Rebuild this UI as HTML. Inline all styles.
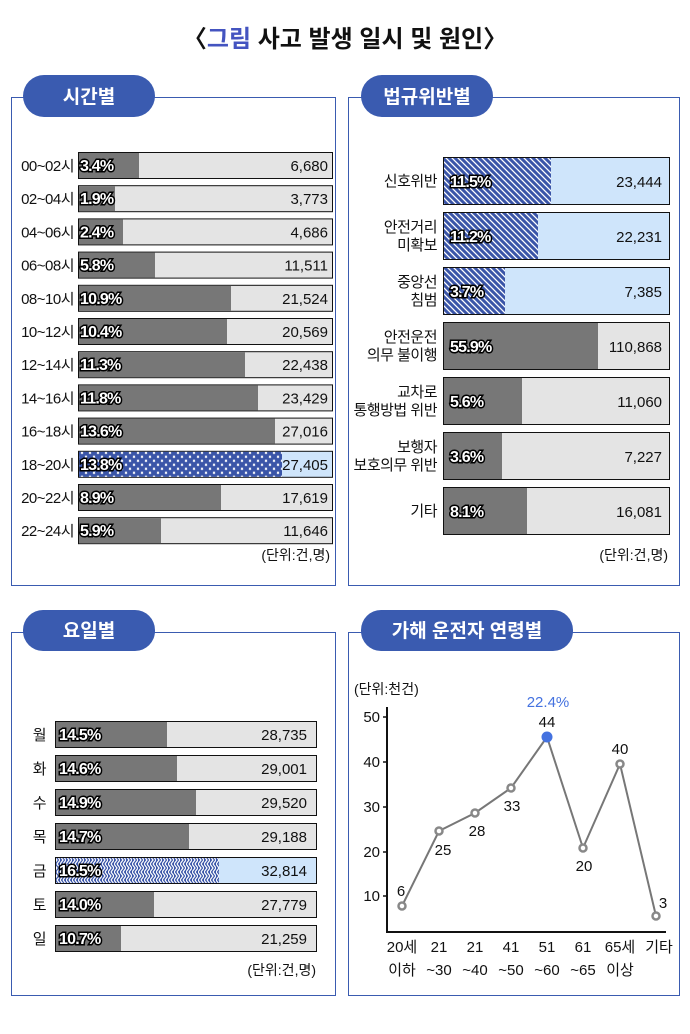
<!DOCTYPE html>
<html><head><meta charset="utf-8"><style>
html,body{margin:0;padding:0;background:#fff;}
svg{display:block;font-family:"Liberation Sans","Noto Sans CJK KR",sans-serif;}
.p{font-weight:bold;font-size:16px;fill:#fff;stroke:#000;stroke-width:3px;paint-order:stroke;letter-spacing:-0.8px;}
.v{font-size:15px;fill:#111;text-anchor:end;}
.l{font-size:15px;fill:#111;text-anchor:end;letter-spacing:-0.5px;}
.pill{font-size:19px;font-weight:bold;fill:#fff;text-anchor:middle;}
.u{font-size:14px;fill:#111;text-anchor:end;}
</style></head><body>
<svg width="690" height="1034" viewBox="0 0 690 1034" xmlns="http://www.w3.org/2000/svg">
<defs>
<pattern id="hatch" width="6" height="6" patternUnits="userSpaceOnUse">
<rect width="6" height="6" fill="#3a55a8"/>
<path d="M-1,-1 L7,7 M-1,5 L1,7 M5,-1 L7,1" stroke="#fff" stroke-width="1.3"/>
</pattern>
<pattern id="dots" width="8" height="8" patternUnits="userSpaceOnUse">
<rect width="8" height="8" fill="#3a55a8"/>
<path d="M1,1 L3,3 M3,1 L1,3 M5,5 L7,7 M7,5 L5,7" stroke="#fff" stroke-width="1"/>
</pattern>
<pattern id="zig" width="6" height="8" patternUnits="userSpaceOnUse">
<rect width="6" height="8" fill="#3a55a8"/>
<path d="M0,0 L3,4 L0,8 M3,0 L6,4 L3,8" stroke="#fff" stroke-width="1.2" fill="none"/>
</pattern>
</defs>

<text x="345" y="47" text-anchor="middle" font-size="24" font-weight="bold" fill="#111">〈<tspan fill="#4454c0">그림</tspan> 사고 발생 일시 및 원인〉</text>

<rect x="11.5" y="97.5" width="324" height="488" fill="none" stroke="#3a5bb0" stroke-width="1"/>
<rect x="348.5" y="97.5" width="331" height="488" fill="none" stroke="#3a5bb0" stroke-width="1"/>
<rect x="11.5" y="632.5" width="324" height="363" fill="none" stroke="#3a5bb0" stroke-width="1"/>
<rect x="348.5" y="632.5" width="331" height="363" fill="none" stroke="#3a5bb0" stroke-width="1"/>

<rect x="23" y="75" width="132" height="42" rx="21" fill="#3a5bb0"/>
<text class="pill" x="89" y="103">시간별</text>
<rect x="361" y="75" width="132" height="42" rx="21" fill="#3a5bb0"/>
<text class="pill" x="427" y="103">법규위반별</text>
<rect x="23" y="610" width="132" height="41" rx="20" fill="#3a5bb0"/>
<text class="pill" x="89" y="637">요일별</text>
<rect x="361" y="610" width="212" height="41" rx="20" fill="#3a5bb0"/>
<text class="pill" x="467" y="637">가해 운전자 연령별</text>

<g>
<g transform="translate(0,0)">
<rect x="78.5" y="152.5" width="254" height="26" fill="#e4e4e4" stroke="#111"/><rect x="79" y="153" width="60" height="25" fill="#777"/>
<text class="l" x="74" y="171">00~02시</text><text class="p" x="80" y="171">3.4%</text><text class="v" x="328" y="171">6,680</text>
</g>
<g transform="translate(0,33.2)">
<rect x="78.5" y="152.5" width="254" height="26" fill="#e4e4e4" stroke="#111"/><rect x="79" y="153" width="36" height="25" fill="#777"/>
<text class="l" x="74" y="171">02~04시</text><text class="p" x="80" y="171">1.9%</text><text class="v" x="328" y="171">3,773</text>
</g>
<g transform="translate(0,66.4)">
<rect x="78.5" y="152.5" width="254" height="26" fill="#e4e4e4" stroke="#111"/><rect x="79" y="153" width="44" height="25" fill="#777"/>
<text class="l" x="74" y="171">04~06시</text><text class="p" x="80" y="171">2.4%</text><text class="v" x="328" y="171">4,686</text>
</g>
<g transform="translate(0,99.6)">
<rect x="78.5" y="152.5" width="254" height="26" fill="#e4e4e4" stroke="#111"/><rect x="79" y="153" width="76" height="25" fill="#777"/>
<text class="l" x="74" y="171">06~08시</text><text class="p" x="80" y="171">5.8%</text><text class="v" x="328" y="171">11,511</text>
</g>
<g transform="translate(0,132.8)">
<rect x="78.5" y="152.5" width="254" height="26" fill="#e4e4e4" stroke="#111"/><rect x="79" y="153" width="152" height="25" fill="#777"/>
<text class="l" x="74" y="171">08~10시</text><text class="p" x="80" y="171">10.9%</text><text class="v" x="328" y="171">21,524</text>
</g>
<g transform="translate(0,166)">
<rect x="78.5" y="152.5" width="254" height="26" fill="#e4e4e4" stroke="#111"/><rect x="79" y="153" width="148" height="25" fill="#777"/>
<text class="l" x="74" y="171">10~12시</text><text class="p" x="80" y="171">10.4%</text><text class="v" x="328" y="171">20,569</text>
</g>
<g transform="translate(0,199.2)">
<rect x="78.5" y="152.5" width="254" height="26" fill="#e4e4e4" stroke="#111"/><rect x="79" y="153" width="166" height="25" fill="#777"/>
<text class="l" x="74" y="171">12~14시</text><text class="p" x="80" y="171">11.3%</text><text class="v" x="328" y="171">22,438</text>
</g>
<g transform="translate(0,232.4)">
<rect x="78.5" y="152.5" width="254" height="26" fill="#e4e4e4" stroke="#111"/><rect x="79" y="153" width="179" height="25" fill="#777"/>
<text class="l" x="74" y="171">14~16시</text><text class="p" x="80" y="171">11.8%</text><text class="v" x="328" y="171">23,429</text>
</g>
<g transform="translate(0,265.6)">
<rect x="78.5" y="152.5" width="254" height="26" fill="#e4e4e4" stroke="#111"/><rect x="79" y="153" width="196" height="25" fill="#777"/>
<text class="l" x="74" y="171">16~18시</text><text class="p" x="80" y="171">13.6%</text><text class="v" x="328" y="171">27,016</text>
</g>
<g transform="translate(0,298.8)">
<rect x="78.5" y="152.5" width="254" height="26" fill="#cfe5fb" stroke="#111"/><rect x="79" y="153" width="203" height="25" fill="url(#dots)"/>
<text class="l" x="74" y="171">18~20시</text><text class="p" x="80" y="171">13.8%</text><text class="v" x="328" y="171">27,405</text>
</g>
<g transform="translate(0,332)">
<rect x="78.5" y="152.5" width="254" height="26" fill="#e4e4e4" stroke="#111"/><rect x="79" y="153" width="142" height="25" fill="#777"/>
<text class="l" x="74" y="171">20~22시</text><text class="p" x="80" y="171">8.9%</text><text class="v" x="328" y="171">17,619</text>
</g>
<g transform="translate(0,365.2)">
<rect x="78.5" y="152.5" width="254" height="26" fill="#e4e4e4" stroke="#111"/><rect x="79" y="153" width="82" height="25" fill="#777"/>
<text class="l" x="74" y="171">22~24시</text><text class="p" x="80" y="171">5.9%</text><text class="v" x="328" y="171">11,646</text>
</g>
</g>
<text class="u" x="330" y="560">(단위:건,명)</text>

<g>
<rect x="443.5" y="157.5" width="226" height="47" fill="#cfe5fb" stroke="#111"/><rect x="444" y="158" width="107" height="46" fill="url(#hatch)"/>
<text class="l" x="437" y="186">신호위반</text><text class="p" x="450" y="187">11.5%</text><text class="v" x="662" y="187">23,444</text>

<rect x="443.5" y="212.5" width="226" height="47" fill="#cfe5fb" stroke="#111"/><rect x="444" y="213" width="94" height="46" fill="url(#hatch)"/>
<text class="l" x="437" y="232">안전거리</text><text class="l" x="437" y="250">미확보</text><text class="p" x="450" y="242">11.2%</text><text class="v" x="662" y="242">22,231</text>

<rect x="443.5" y="267.5" width="226" height="47" fill="#cfe5fb" stroke="#111"/><rect x="444" y="268" width="61" height="46" fill="url(#hatch)"/>
<text class="l" x="437" y="287">중앙선</text><text class="l" x="437" y="305">침범</text><text class="p" x="450" y="297">3.7%</text><text class="v" x="662" y="297">7,385</text>

<rect x="443.5" y="322.5" width="226" height="47" fill="#e4e4e4" stroke="#111"/><rect x="444" y="323" width="154" height="46" fill="#777"/>
<text class="l" x="437" y="342">안전운전</text><text class="l" x="437" y="360">의무 불이행</text><text class="p" x="450" y="352">55.9%</text><text class="v" x="662" y="352">110,868</text>

<rect x="443.5" y="377.5" width="226" height="47" fill="#e4e4e4" stroke="#111"/><rect x="444" y="378" width="78" height="46" fill="#777"/>
<text class="l" x="437" y="397">교차로</text><text class="l" x="437" y="415">통행방법 위반</text><text class="p" x="450" y="407">5.6%</text><text class="v" x="662" y="407">11,060</text>

<rect x="443.5" y="432.5" width="226" height="47" fill="#e4e4e4" stroke="#111"/><rect x="444" y="433" width="58" height="46" fill="#777"/>
<text class="l" x="437" y="452">보행자</text><text class="l" x="437" y="470">보호의무 위반</text><text class="p" x="450" y="462">3.6%</text><text class="v" x="662" y="462">7,227</text>

<rect x="443.5" y="487.5" width="226" height="47" fill="#e4e4e4" stroke="#111"/><rect x="444" y="488" width="83" height="46" fill="#777"/>
<text class="l" x="437" y="516">기타</text><text class="p" x="450" y="517">8.1%</text><text class="v" x="662" y="517">16,081</text>
</g>
<text class="u" x="668" y="560">(단위:건,명)</text>

<g>
<rect x="55.5" y="721.5" width="261" height="26" fill="#e4e4e4" stroke="#111"/><rect x="56" y="722" width="111" height="25" fill="#777"/>
<text class="l" x="46" y="740">월</text><text class="p" x="59" y="740">14.5%</text><text class="v" x="307" y="740">28,735</text>
<rect x="55.5" y="755.5" width="261" height="26" fill="#e4e4e4" stroke="#111"/><rect x="56" y="756" width="121" height="25" fill="#777"/>
<text class="l" x="46" y="774">화</text><text class="p" x="59" y="774">14.6%</text><text class="v" x="307" y="774">29,001</text>
<rect x="55.5" y="789.5" width="261" height="26" fill="#e4e4e4" stroke="#111"/><rect x="56" y="790" width="140" height="25" fill="#777"/>
<text class="l" x="46" y="808">수</text><text class="p" x="59" y="808">14.9%</text><text class="v" x="307" y="808">29,520</text>
<rect x="55.5" y="823.5" width="261" height="26" fill="#e4e4e4" stroke="#111"/><rect x="56" y="824" width="133" height="25" fill="#777"/>
<text class="l" x="46" y="842">목</text><text class="p" x="59" y="842">14.7%</text><text class="v" x="307" y="842">29,188</text>
<rect x="55.5" y="857.5" width="261" height="26" fill="#cfe5fb" stroke="#111"/><rect x="56" y="858" width="163" height="25" fill="url(#zig)"/>
<text class="l" x="46" y="876">금</text><text class="p" x="59" y="876">16.5%</text><text class="v" x="307" y="876">32,814</text>
<rect x="55.5" y="891.5" width="261" height="26" fill="#e4e4e4" stroke="#111"/><rect x="56" y="892" width="98" height="25" fill="#777"/>
<text class="l" x="46" y="910">토</text><text class="p" x="59" y="910">14.0%</text><text class="v" x="307" y="910">27,779</text>
<rect x="55.5" y="925.5" width="261" height="26" fill="#e4e4e4" stroke="#111"/><rect x="56" y="926" width="65" height="25" fill="#777"/>
<text class="l" x="46" y="944">일</text><text class="p" x="59" y="944">10.7%</text><text class="v" x="307" y="944">21,259</text>
</g>
<text class="u" x="316" y="975">(단위:건,명)</text>

<g font-size="15" fill="#111">
<text x="354" y="694" font-size="14">(단위:천건)</text>
<line x1="387" y1="707" x2="387" y2="932" stroke="#111" stroke-width="2"/>
<line x1="386" y1="932" x2="666" y2="932" stroke="#111" stroke-width="2"/>
<g stroke="#111" stroke-width="1.5">
<line x1="383" y1="717" x2="387" y2="717"/><line x1="383" y1="762" x2="387" y2="762"/><line x1="383" y1="807" x2="387" y2="807"/><line x1="383" y1="852" x2="387" y2="852"/><line x1="383" y1="896" x2="387" y2="896"/>
</g>
<g text-anchor="end" font-size="15">
<text x="380" y="722">50</text><text x="380" y="767">40</text><text x="380" y="812">30</text><text x="380" y="857">20</text><text x="380" y="901">10</text>
</g>
<polyline points="402,906 439,831 475,813 511,788 547,737 583,848 620,764 656,916" fill="none" stroke="#777" stroke-width="2"/>
<g fill="#fff" stroke="#888" stroke-width="2.5">
<circle cx="402" cy="906" r="3.5"/><circle cx="439" cy="831" r="3.5"/><circle cx="475" cy="813" r="3.5"/><circle cx="511" cy="788" r="3.5"/><circle cx="583" cy="848" r="3.5"/><circle cx="620" cy="764" r="3.5"/><circle cx="656" cy="916" r="3.5"/>
</g>
<circle cx="547" cy="737" r="5.5" fill="#4472e0"/>
<g text-anchor="middle" font-size="15">
<text x="401" y="896">6</text><text x="443" y="855">25</text><text x="477" y="836">28</text><text x="512" y="811">33</text>
<text x="547" y="727">44</text><text x="584" y="871">20</text><text x="620" y="754">40</text><text x="663" y="908">3</text>
<text x="548" y="707" fill="#4472e0">22.4%</text>
</g>
<g text-anchor="middle" font-size="15">
<text x="402" y="952">20세</text><text x="402" y="975">이하</text>
<text x="439" y="952">21</text><text x="439" y="975">~30</text>
<text x="475" y="952">21</text><text x="475" y="975">~40</text>
<text x="511" y="952">41</text><text x="511" y="975">~50</text>
<text x="547" y="952">51</text><text x="547" y="975">~60</text>
<text x="583" y="952">61</text><text x="583" y="975">~65</text>
<text x="620" y="952">65세</text><text x="620" y="975">이상</text>
<text x="659" y="952">기타</text>
</g>
</g>
</svg>
</body></html>
